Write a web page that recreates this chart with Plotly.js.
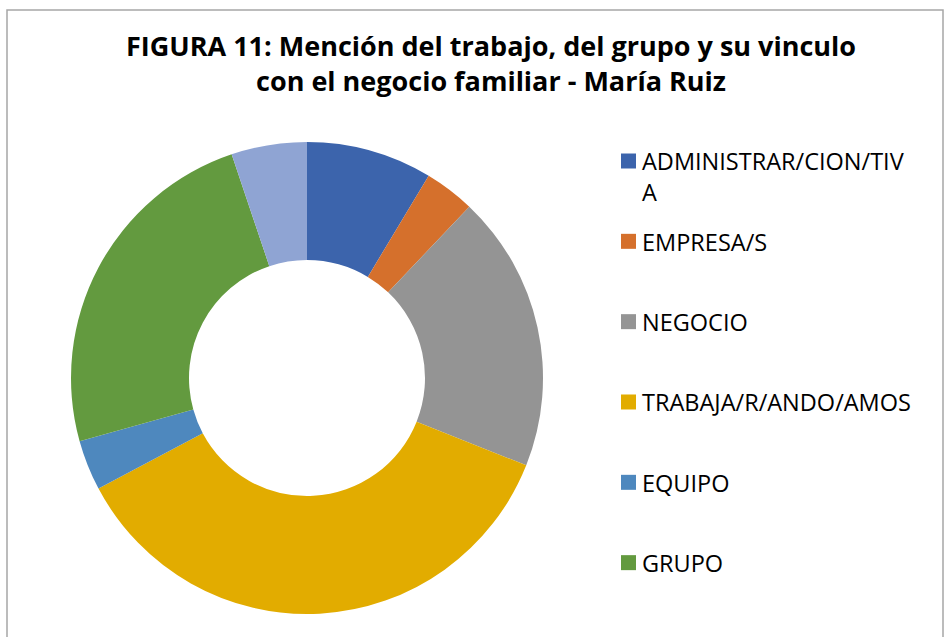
<!DOCTYPE html>
<html>
<head>
<meta charset="utf-8">
<script src="https://cdn.plot.ly/plotly-3.0.1.min.js"></script>
<style>html,body{margin:0;padding:0;background:#fff;}#chart{width:947px;height:637px;}</style>
</head>
<body>
<div id="chart"></div>
<script>
// Data
var categories = ["ADMINISTRAR/CION/TIVA", "EMPRESA/S", "NEGOCIO", "TRABAJA/R/ANDO/AMOS", "EQUIPO", "GRUPO", "FAMILIA/R"];
var legendLabels = ["ADMINISTRAR/CION/TIV<br>A", "EMPRESA/S", "NEGOCIO", "TRABAJA/R/ANDO/AMOS", "EQUIPO", "GRUPO", "FAMILIA/R"];
var counts = [5, 2, 11, 21, 2, 14, 3];
var colors = ["#3C64AC", "#D5702C", "#949494", "#E2AC00", "#4E88BE", "#639A3F", "#8FA4D3"];
var titleText = "FIGURA 11: Mención del trabajo, del grupo y su vinculo<br>con el negocio familiar - María Ruiz";

var W = 947, H = 637;
function px(x){ return x / W; }
function py(y){ return 1 - y / H; }

var FONT = "'Open Sans', Lato, sans-serif";

var trace = {
  type: "pie",
  labels: categories,
  values: counts,
  marker: {colors: colors, line: {width: 0}},
  hole: 0.5,
  sort: false,
  direction: "clockwise",
  rotation: 0,
  textinfo: "none",
  hoverinfo: "label+value+percent",
  showlegend: false,
  domain: {x: [px(71), px(543)], y: [py(614), py(142)]}
};

// Legend drawn from the category/color arrays (only the entries that fit in the visible frame)
var visibleLegendCount = 6;
var legTop = 161, legStep = 80.33;
var shapes = [{
  type: "rect", xref: "paper", yref: "paper",
  x0: px(7), x1: px(943), y0: py(660), y1: py(10),
  line: {color: "#A6A6A6", width: 1.5}, fillcolor: "rgba(0,0,0,0)"
}];
var annotations = [];
for (var i = 0; i < visibleLegendCount; i++) {
  var cy = legTop + legStep * i;
  shapes.push({
    type: "rect", xref: "paper", yref: "paper",
    x0: px(621), x1: px(636), y0: py(cy + 7.5), y1: py(cy - 7.5),
    line: {width: 0}, fillcolor: colors[i]
  });
  annotations.push({
    xref: "paper", yref: "paper", x: px(640), y: py(cy - 17.5),
    xanchor: "left", yanchor: "top", align: "left",
    text: legendLabels[i], showarrow: false,
    font: {family: FONT, size: 23.5, color: "#000"}
  });
}

var layout = {
  width: W, height: H,
  margin: {l: 0, r: 0, t: 0, b: 0},
  paper_bgcolor: "#fff",
  title: {
    text: titleText,
    x: px(491), xanchor: "center", xref: "paper",
    y: py(56), yanchor: "top", yref: "paper",
    font: {family: FONT, size: 27, color: "#000", weight: "bold"}
  },
  shapes: shapes,
  annotations: annotations
};

Plotly.newPlot("chart", [trace], layout, {displayModeBar: false, staticPlot: true});
</script>
</body>
</html>
